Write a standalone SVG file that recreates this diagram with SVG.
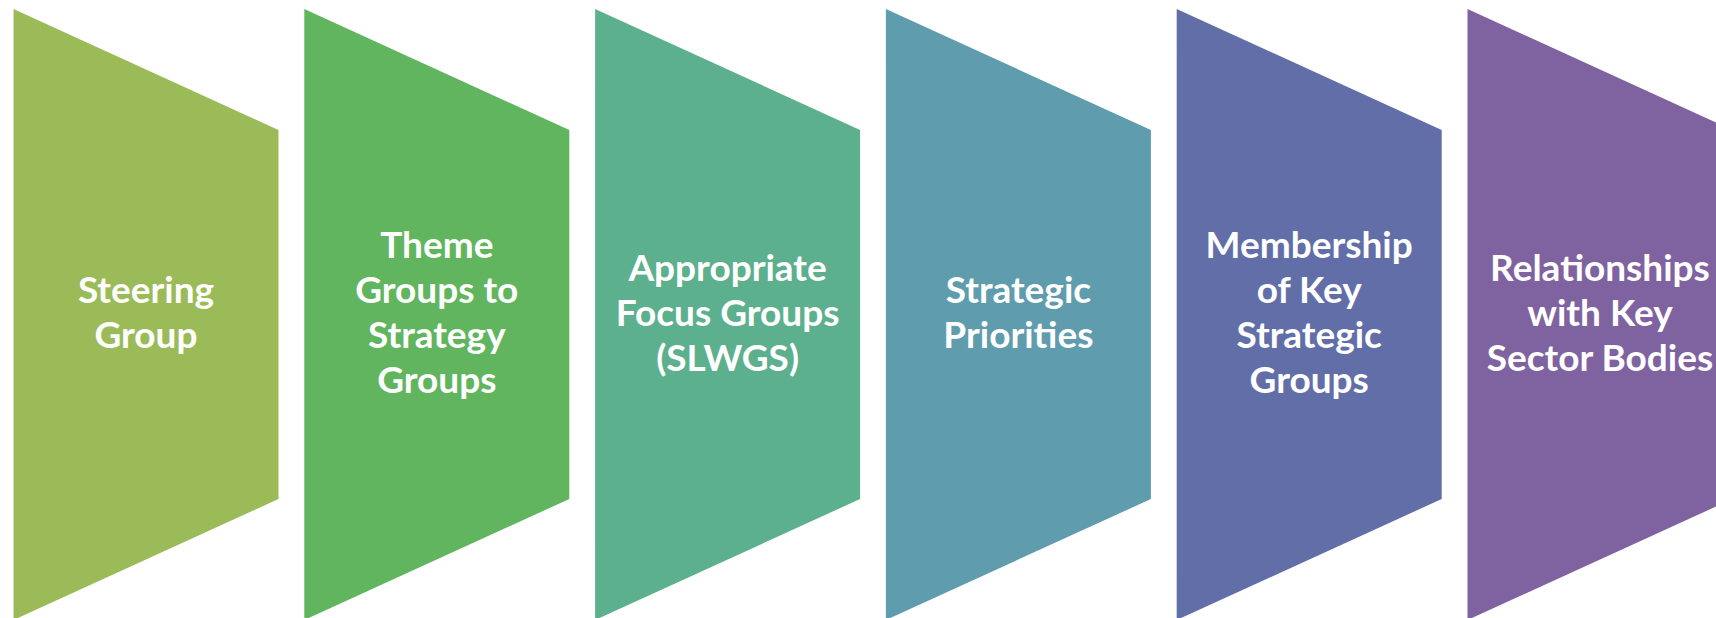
<svg xmlns="http://www.w3.org/2000/svg" width="1716" height="618" viewBox="0 0 1716 618">
<style>
.t{font-family:Lato,"Open Sans","Liberation Sans",sans-serif;font-weight:bold;font-size:37px;fill:#ffffff;text-anchor:middle}
</style>
<defs>
<path id="chev" d="M0,9 L265,130 L265,499 L0,620 Z"/>
</defs>
<rect width="1716" height="618" fill="#ffffff"/>
<g id="node1" transform="translate(13.5,0)">
<use href="#chev" fill="#9BBB59"/>
<text class="t" x="132.5" y="303">Steering</text>
<text class="t" x="132.5" y="348">Group</text>
</g>
<g id="node2" transform="translate(304.3,0)">
<use href="#chev" fill="#60B55E"/>
<text class="t" x="132.5" y="258">Theme</text>
<text class="t" x="132.5" y="303">Groups to</text>
<text class="t" x="132.5" y="348">Strategy</text>
<text class="t" x="132.5" y="393">Groups</text>
</g>
<g id="node3" transform="translate(595.1,0)">
<use href="#chev" fill="#5DB08E"/>
<text class="t" x="132.5" y="280.5">Appropriate</text>
<text class="t" x="132.5" y="325.5">Focus Groups</text>
<text class="t" x="132.5" y="370.5">(SLWGS)</text>
</g>
<g id="node4" transform="translate(885.9,0)">
<use href="#chev" fill="#5F9CAD"/>
<text class="t" x="132.5" y="303">Strategic</text>
<text class="t" x="132.5" y="348">Priorities</text>
</g>
<g id="node5" transform="translate(1176.7,0)">
<use href="#chev" fill="#626EA8"/>
<text class="t" x="132.5" y="258">Membership</text>
<text class="t" x="132.5" y="303">of Key</text>
<text class="t" x="132.5" y="348">Strategic</text>
<text class="t" x="132.5" y="393">Groups</text>
</g>
<g id="node6" transform="translate(1467.5,0)">
<use href="#chev" fill="#7F63A0"/>
<text class="t" x="132.5" y="280.5">Relationships</text>
<text class="t" x="132.5" y="325.5">with Key</text>
<text class="t" x="132.5" y="370.5">Sector Bodies</text>
</g>
<g id="connectors"/>
</svg>
